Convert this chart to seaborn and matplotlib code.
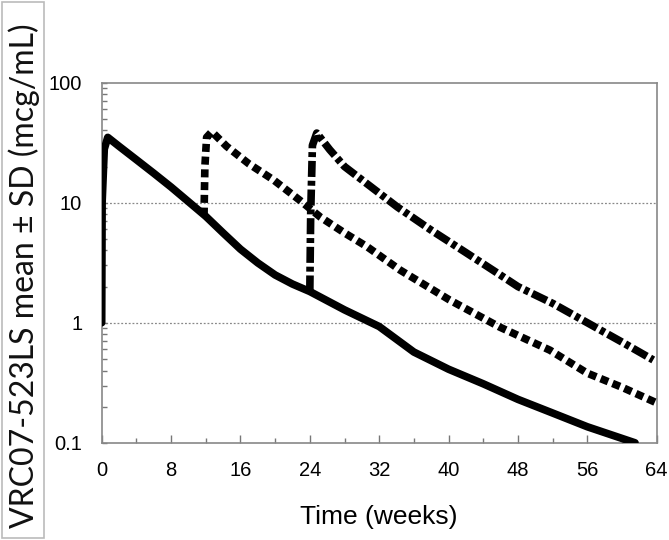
import numpy as np
import pandas as pd
import matplotlib
matplotlib.use("Agg")
import matplotlib.pyplot as plt
import matplotlib.ticker as mticker
from matplotlib.patches import Rectangle
import seaborn as sns

# ---- data ----
dose1_t = [0, 0.05, 0.3, 0.7, 2, 4, 6, 8, 10, 12, 14, 16, 18, 20, 22, 24, 28, 32, 36, 40, 44, 48, 52, 56, 61.5]
dose1_v = [1, 10, 28, 35, 29.5, 22.8, 17.6, 13.5, 10.2, 7.7, 5.6, 4.1, 3.15, 2.5, 2.1, 1.82, 1.28, 0.93, 0.57, 0.41, 0.31, 0.23, 0.177, 0.136, 0.1]

dose2_t = [11.8, 11.9, 12.1, 12.7, 14.4, 17, 19.8, 22.9, 25.2, 28, 30.6, 34.4, 40.1, 45.9, 51.7, 56, 60, 64]
dose2_v = [7.8, 20, 35, 39, 29.5, 21, 15.5, 10.4, 7.6, 5.6, 4.3, 2.75, 1.55, 0.92, 0.59, 0.38, 0.29, 0.215]

dose3_t = [24, 24.1, 24.3, 24.8, 26.3, 28, 30, 34.1, 38, 42, 45.6, 48, 52, 57.5, 60, 63.6]
dose3_v = [1.82, 8, 30, 38, 27.6, 20, 15.5, 9.2, 5.9, 3.84, 2.6, 2.0, 1.45, 0.87, 0.69, 0.49]

x_ticks = [0, 8, 16, 24, 32, 40, 48, 56, 64]
y_ticks = [0.1, 1, 10, 100]
y_tick_labels = ["0.1", "1", "10", "100"]
x_label = "Time (weeks)"
y_label = "VRC07-523LS mean ± SD (mcg/mL)"

df = pd.concat([
    pd.DataFrame({"t": dose1_t, "v": dose1_v, "s": "d1"}),
    pd.DataFrame({"t": dose2_t, "v": dose2_v, "s": "d2"}),
    pd.DataFrame({"t": dose3_t, "v": dose3_v, "s": "d3"}),
])

plt.rcParams["font.family"] = ["Liberation Sans", "DejaVu Sans"]

fig = plt.figure(figsize=(6.69, 5.40), dpi=100)
ax = fig.add_axes([0.152, 0.180, 0.8296, 0.667])

lw = 5.5
styles = {
    "d1": dict(linestyle="-"),
    "d2": dict(linestyle=(0, (1.05, 0.62))),
    "d3": dict(linestyle=(0, (2.1, 0.5, 0.65, 0.5))),
}
for key, sty in styles.items():
    sub = df[df["s"] == key]
    sns.lineplot(data=sub, x="t", y="v", ax=ax, color="black", linewidth=lw,
                 sort=False, estimator=None, legend=False,
                 dash_capstyle="butt", solid_capstyle="round",
                 solid_joinstyle="round", zorder=3, **sty)

ax.set_yscale("log")
ax.set_xlim(0, 64)
ax.set_ylim(0.1, 100)
ax.set_xticks(x_ticks)
ax.set_xticklabels([str(v) for v in x_ticks])
ax.xaxis.set_minor_locator(mticker.MultipleLocator(4))
ax.set_yticks(y_ticks)
ax.set_yticklabels(y_tick_labels)
ax.yaxis.set_minor_locator(mticker.LogLocator(base=10, subs=np.arange(2, 10)))
ax.yaxis.set_minor_formatter(mticker.NullFormatter())

ax.tick_params(axis="x", which="major", direction="in", length=6, width=1,
               color="#777777", labelsize=14.5, pad=13, top=False, bottom=True)
ax.tick_params(axis="x", which="minor", direction="in", length=3.5, width=1,
               color="#777777", top=False, bottom=True)
ax.tick_params(axis="y", which="major", direction="in", length=3.5, width=1,
               color="#777777", labelsize=14.5, pad=14, left=True, right=False)
ax.tick_params(axis="y", which="minor", direction="in", length=3.5, width=1,
               color="#777777", left=True, right=False)

ax.grid(False)
for yv in [1, 10]:
    ax.axhline(yv, color="#888888", linestyle=(0, (1.5, 1.5)), linewidth=0.9, zorder=1)

for sp in ax.spines.values():
    sp.set_color("#888888")
    sp.set_linewidth(1.2)
    sp.set_visible(True)

ax.set_xlabel(x_label, fontsize=19, labelpad=18)
ax.set_ylabel("")

# boxed y label
fig.patches.append(Rectangle((2 / 669, 2 / 540), 42 / 669, 536 / 540,
                             transform=fig.transFigure, fill=False,
                             edgecolor="#bbbbbb", linewidth=1.2))
fig.text(24 / 669, 1 - 276 / 540, y_label, rotation=90, ha="center", va="center",
         fontsize=23, family=["Lato", "DejaVu Sans"], color="#111111")

fig.savefig("out.png", dpi=100)
